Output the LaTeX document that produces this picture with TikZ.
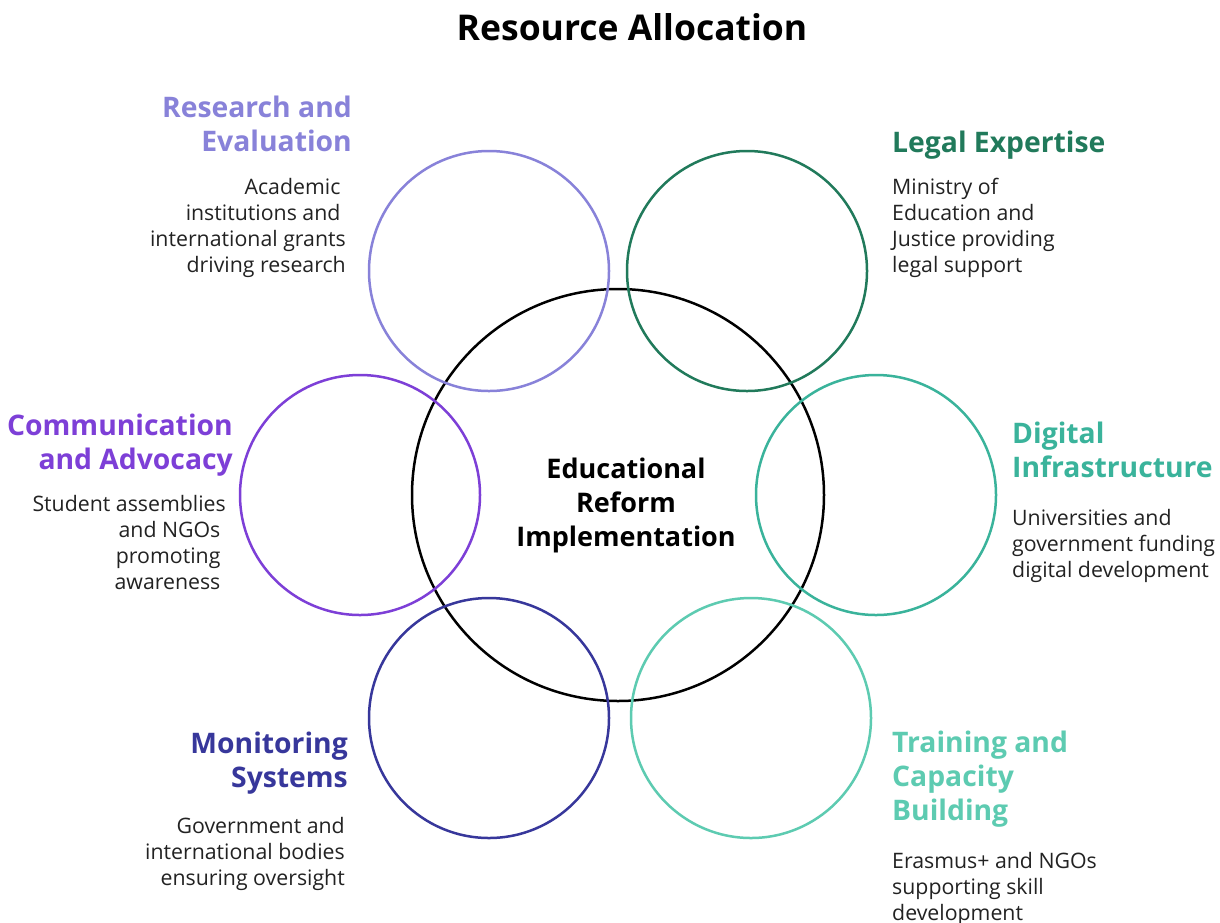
\documentclass[tikz,border=0pt]{standalone}
\usepackage{fontspec}
\setmainfont{Open Sans}
\definecolor{cresearch}{HTML}{8882D9}
\definecolor{clegal}{HTML}{217A5B}
\definecolor{cdigital}{HTML}{3AB39B}
\definecolor{ctraining}{HTML}{5DCBB1}
\definecolor{cmonitor}{HTML}{37379B}
\definecolor{ccomm}{HTML}{7D3FD7}
\definecolor{ctext}{HTML}{222222}
\begin{document}
\begin{tikzpicture}[x=1pt,y=-1pt,
  ring/.style={line width=2.5pt},
  head/.style={inner sep=0pt,font=\fontsize{28.3}{34}\selectfont\bfseries},
  body/.style={inner sep=0pt,text=ctext,font=\fontsize{21.3}{26}\selectfont},
  headR/.style={head,anchor=base east,align=right},
  headL/.style={head,anchor=base west,align=left},
  bodyR/.style={body,anchor=base east,align=right},
  bodyL/.style={body,anchor=base west,align=left}]
\useasboundingbox (0,0) rectangle (1220,922);
\fill[white] (0,0) rectangle (1220,922);
% centres
\coordinate (c0) at (618,495);
\coordinate (cdig) at (876,495);
\coordinate (cleg) at (747,271);
\coordinate (cres) at (489,271);
\coordinate (ccom) at (360,495);
\coordinate (cmon) at (489,718);
\coordinate (ctra) at (751,718);
% circles
\draw[ring,black] (c0) circle (206);
\draw[ring,cresearch] (cres) circle (120);
\draw[ring,clegal] (cleg) circle (120);
\draw[ring,cdigital] (cdig) circle (120);
\draw[ring,ctraining] (ctra) circle (120);
\draw[ring,cmonitor] (cmon) circle (120);
\draw[ring,ccomm] (ccom) circle (120);
% title
\node[inner sep=0pt,anchor=base,font=\fontsize{35.5}{40}\selectfont\bfseries] (title) at (632,40) {Resource Allocation};
% centre text (anchor = baseline of last line)
\node[inner sep=0pt,font=\fontsize{27}{34}\selectfont\bfseries,anchor=base,align=center] (center) at (626,546) {Educational\\Reform\\Implementation};
% research
\node[headR,text=cresearch] (hres) at (352,151) {Research and\\Evaluation};
\node[bodyR] (bres) at (346,272) {Academic\hphantom{i}\\institutions and\hphantom{i}\\international grants\\driving research};
% legal
\node[headL,text=clegal] (hleg) at (892,152) {Legal Expertise};
\node[bodyL] (bleg) at (892,272) {Ministry of\\Education and\\Justice providing\\legal support};
% communication
\node[headR,text=ccomm] (hcom) at (233,469) {Communication\\and Advocacy};
\node[bodyR] (bcom) at (226,589) {Student assemblies\\and NGOs\hphantom{i}\\promoting\hphantom{i}\\awareness\hphantom{i}};
% digital
\node[headL,text=cdigital] (hdig) at (1012,477) {Digital\\Infrastructure};
\node[bodyL] (bdig) at (1012,577) {Universities and\\government funding\\digital development};
% monitoring
\node[headR,text=cmonitor] (hmon) at (348,787) {Monitoring\\Systems};
\node[bodyR] (bmon) at (345,885) {Government and\\international bodies\\ensuring oversight};
% training
\node[headL,text=ctraining] (htra) at (892,820) {Training and\\Capacity\\Building};
\node[bodyL] (btra) at (892,920) {Erasmus+ and NGOs\\supporting skill\\development};
\end{tikzpicture}
\end{document}
